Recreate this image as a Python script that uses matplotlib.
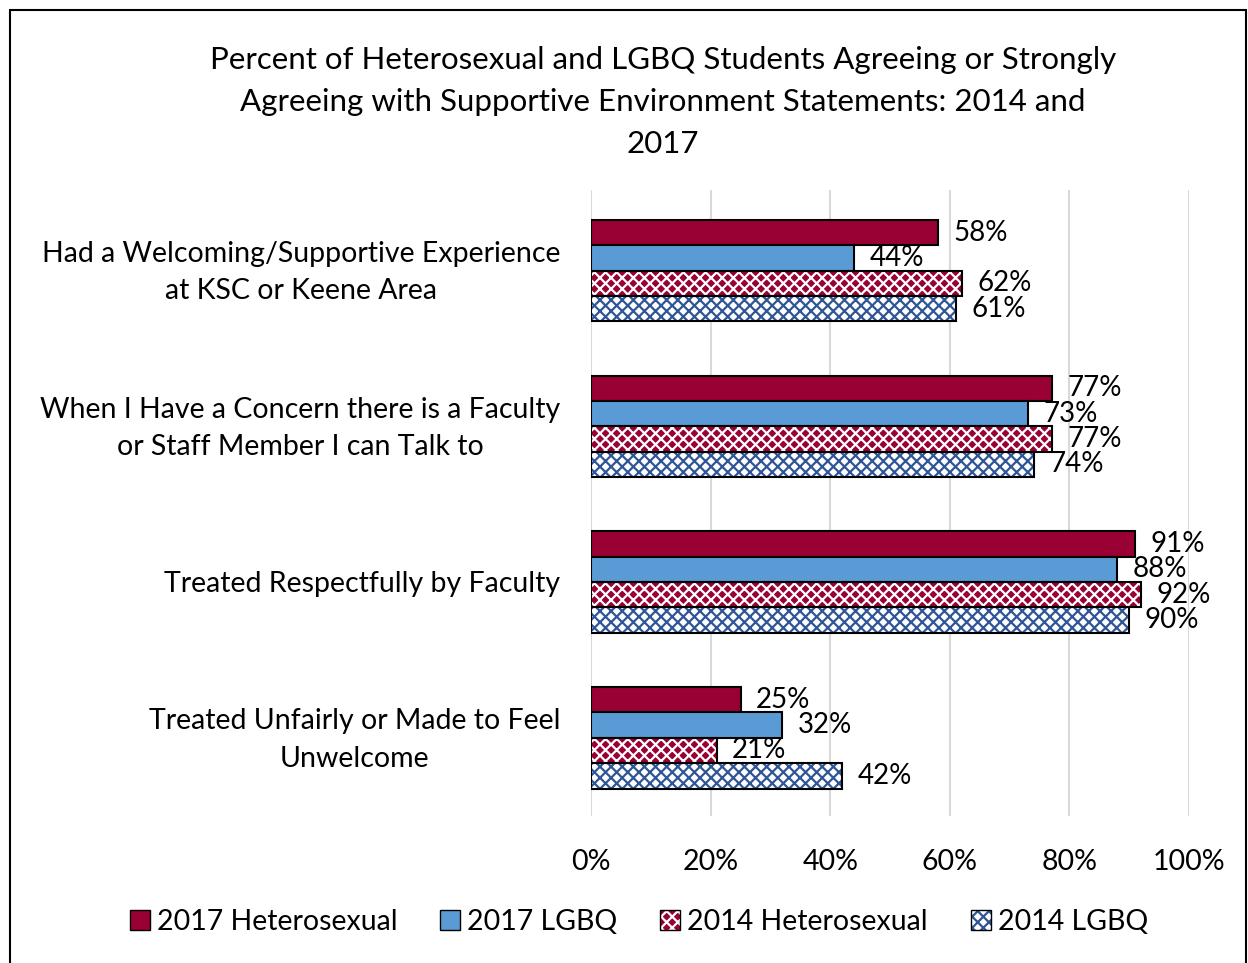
import matplotlib
matplotlib.use("Agg")
import matplotlib.pyplot as plt
from matplotlib.patches import Rectangle, Patch
from matplotlib.transforms import ScaledTranslation
import numpy as np

# data
categories = [
    "Had a Welcoming/Supportive Experience\nat KSC or Keene Area",
    "When I Have a Concern there is a Faculty\nor Staff Member I can Talk to",
    "Treated Respectfully by Faculty",
    "Treated Unfairly or Made to Feel\nUnwelcome",
]
series_names = ["2017 Heterosexual", "2017 LGBQ", "2014 Heterosexual", "2014 LGBQ"]
hetero_2017 = [58, 77, 91, 25]
lgbq_2017 = [44, 73, 88, 32]
hetero_2014 = [62, 77, 92, 21]
lgbq_2014 = [61, 74, 90, 42]
xticks = [0, 20, 40, 60, 80, 100]

plt.rcParams['font.family'] = ['Lato', 'DejaVu Sans']
plt.rcParams['hatch.linewidth'] = 1.6

crimson = '#990033'
blue = '#5B9BD5'
dark_blue = '#2F5597'

# face, hatch colour, hatch
styles = [
    (crimson, None, None),
    (blue, None, None),
    (crimson, 'white', 'xxx'),
    ('white', dark_blue, 'xxx'),
]

FS = 20.5

fig = plt.figure(figsize=(12.48, 9.63), dpi=100)
ax = fig.add_axes([0.4736, 0.153, 0.4792, 0.650])

y = np.arange(len(categories))
h = 0.163
offsets = [-1.5 * h, -0.5 * h, 0.5 * h, 1.5 * h]
all_series = [hetero_2017, lgbq_2017, hetero_2014, lgbq_2014]

for vals, off, (face, hcol, hatch) in zip(all_series, offsets, styles):
    if hatch:
        ax.barh(y + off, vals, height=h, color=face, edgecolor=hcol,
                hatch=hatch, linewidth=0, zorder=2)
        ax.barh(y + off, vals, height=h, fill=False, edgecolor='black',
                linewidth=1.5, zorder=3)
    else:
        ax.barh(y + off, vals, height=h, color=face, edgecolor='black',
                linewidth=1.5, zorder=3)
    for yy, v in zip(y + off, vals):
        ax.text(v + 2.6, yy, f"{v}%", va='center', ha='left', fontsize=20)

ax.set_xlim(0, 100)
ax.set_ylim(3.5, -0.52)
ax.set_xticks(xticks)
ax.set_xticklabels([f"{t}%" for t in xticks], fontsize=FS)
ax.set_yticks(y)
ax.set_yticklabels([])
# category labels as text, right-aligned left of the bars
lab_tr = ax.get_yaxis_transform() + ScaledTranslation(-0.31, -0.02, fig.dpi_scale_trans)
for yy, cat in zip(y, categories):
    ax.text(0, yy, cat, transform=lab_tr, ha='right', va='center',
            multialignment='center', fontsize=FS, linespacing=1.55)
ax.tick_params(axis='both', length=0)
ax.tick_params(axis='x', pad=24)
ax.xaxis.grid(True, color='#d9d9d9', linewidth=1.5, zorder=0)
ax.set_axisbelow(True)
for s in ax.spines.values():
    s.set_visible(False)

fig.text(0.531, 0.952,
         "Percent of Heterosexual and LGBQ Students Agreeing or Strongly\n"
         "Agreeing with Supportive Environment Statements: 2014 and\n2017",
         ha='center', va='top', fontsize=22.5, linespacing=1.6)

handles = []
for name, (face, hcol, hatch) in zip(series_names, styles):
    if hatch:
        handles.append((Patch(facecolor=face, edgecolor=hcol, hatch=hatch, linewidth=0),
                        Patch(fill=False, edgecolor='black', linewidth=1)))
    else:
        handles.append(Patch(facecolor=face, edgecolor='black', linewidth=1))
leg = fig.legend(handles=handles, labels=series_names, loc='center', ncol=4,
                 frameon=False, bbox_to_anchor=(0.512, 0.0426), fontsize=FS,
                 handlelength=0.7, handleheight=0.7, handletextpad=0.25,
                 columnspacing=1.5)

# chart border
fig.patches.append(Rectangle((10 / 1248, -0.01), 1236 / 1248, 1 - 10 / 963 + 0.01,
                             transform=fig.transFigure, fill=False,
                             edgecolor='black', linewidth=1.5))

fig.savefig('out.png', dpi=100)
